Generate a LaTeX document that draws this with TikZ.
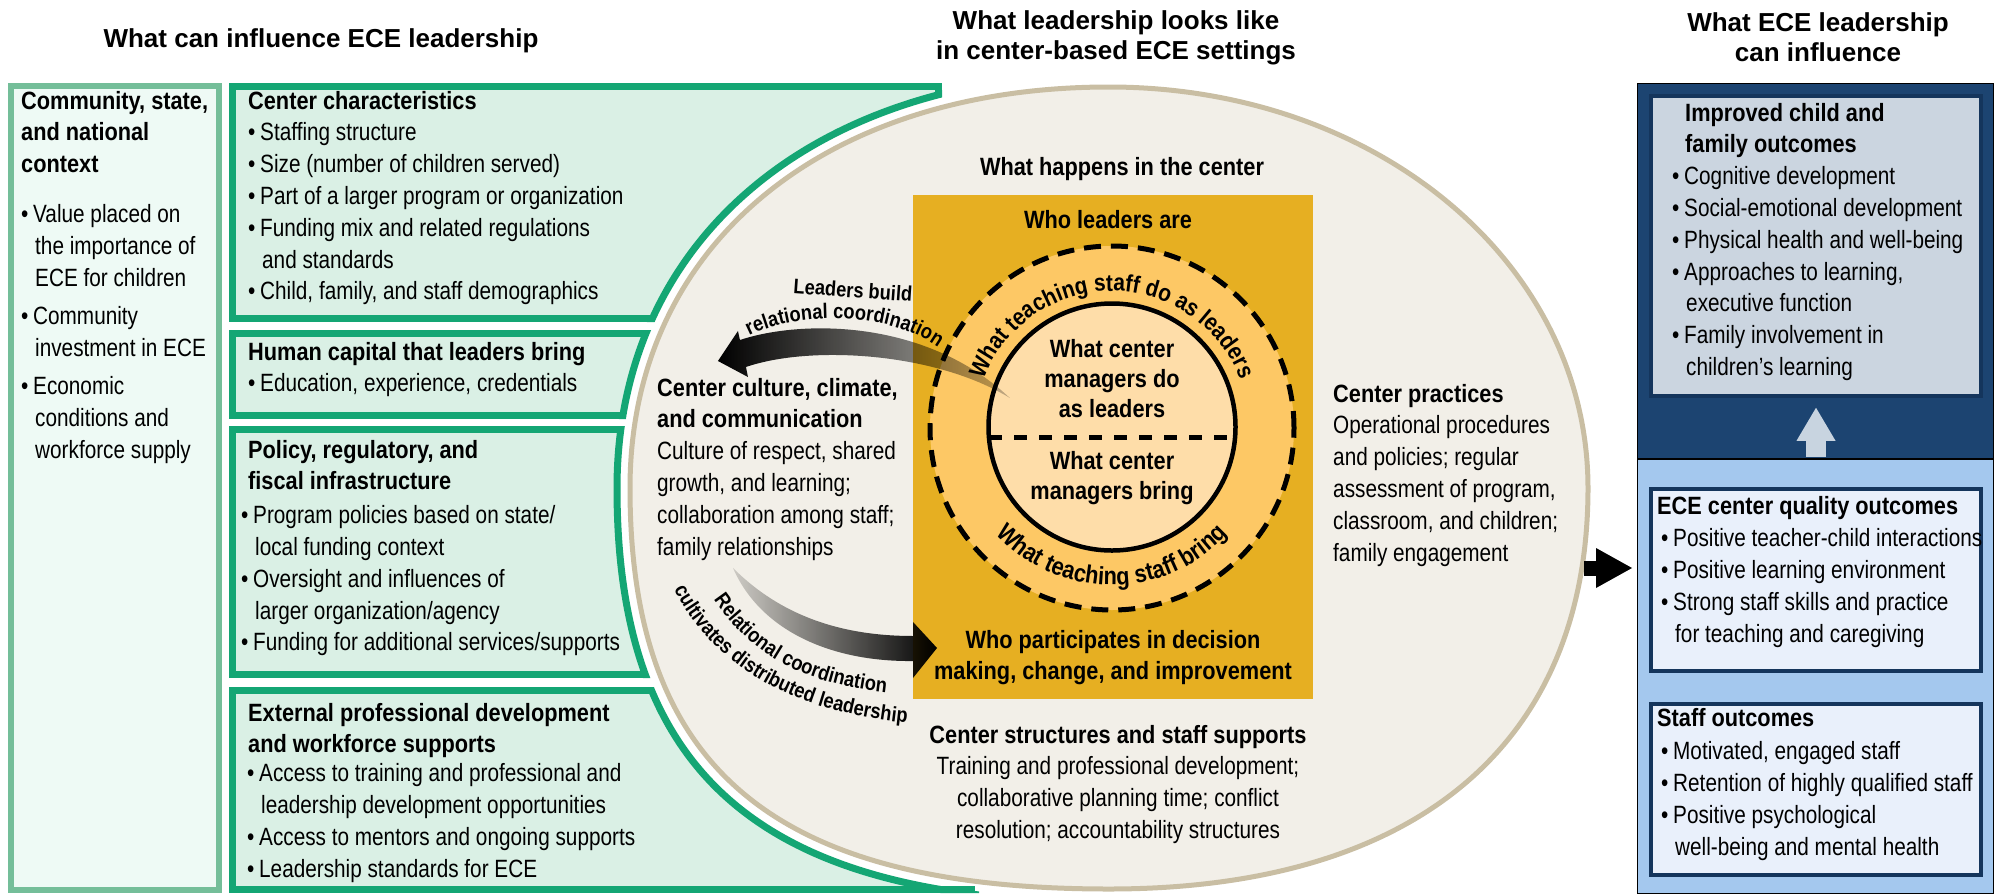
\documentclass[tikz,border=0pt]{standalone}
\usepackage{fontspec}
\setmainfont{Liberation Sans}[UprightFeatures={FakeStretch=0.83},BoldFeatures={FakeStretch=0.87}]
\newfontfamily\headfont{Liberation Sans}
\usetikzlibrary{arrows.meta, fadings, decorations.text, calc}

% Colours of the three columns
\definecolor{ctxline}{HTML}{74BE99}
\definecolor{ctxfill}{HTML}{EEFAF5}
\definecolor{grnline}{HTML}{14A674}
\definecolor{grnfill}{HTML}{DAF0E5}
\definecolor{beigefill}{HTML}{F2EFE8}
\definecolor{beigeline}{HTML}{C9BEA3}
\definecolor{gold}{HTML}{E6AF22}
\definecolor{ringfill}{HTML}{FDC865}
\definecolor{corefill}{HTML}{FEDDA9}
\definecolor{navy}{HTML}{1C4471}
\definecolor{navyline}{HTML}{14355C}
\definecolor{greyblue}{HTML}{CBD5E0}
\definecolor{skyblue}{HTML}{A4C8EE}
\definecolor{paleblue}{HTML}{E9F0FB}
\definecolor{arrowgrey}{HTML}{C8D4E0}

% Fadings for the two curved arrows
\tikzfading[name=tailright, left color=transparent!0, middle color=transparent!35, right color=transparent!100]
\tikzfading[name=tailleft, left color=transparent!85, middle color=transparent!35, right color=transparent!0]

\newcommand{\itm}{\makebox[12pt][l]{•}}
\newcommand{\cnt}{\hspace*{14pt}}
\newcommand{\arcfont}{\bfseries\fontsize{24}{24}\selectfont}
\newcommand{\arcfontb}{\bfseries\fontsize{25}{25}\selectfont}
\newcommand{\arrowfont}{\bfseries\fontsize{21}{21}\selectfont}

\tikzset{
  txt/.style={anchor=north west, inner sep=0pt, align=left,
    font=\fontsize{25}{31.8}\selectfont, execute at begin node=\strut},
  ctxt/.style={txt, anchor=north, align=center},
  headline/.style={anchor=north, inner sep=0pt, align=center,
    font=\headfont\bfseries\fontsize{26}{30}\selectfont, execute at begin node=\strut},
  outbox/.style={draw=navyline, line width=3.5pt, inner sep=0pt},
  arctext/.style={decorate, decoration={text along path, text align=center, text={#1}}},
}

\begin{document}
\begin{tikzpicture}[x=1pt, y=-1pt]

  % Fix the size of the page
  \useasboundingbox (0,0) rectangle (1997,895);

  % Column headings
  \node[headline] (lefthead) at (321,26) {What can influence ECE leadership};
  \node[headline] (midhead) at (1116,10) {What leadership looks like\\in center-based ECE settings};
  \node[headline] (righthead) at (1818,12) {What ECE leadership\\can influence};

  % Context box on the far left
  \draw[ctxline, fill=ctxfill, line width=6pt] (11,86) rectangle (219,890);
  \node[txt] (context) at (21,90.7) {\textbf{Community, state,}\\\textbf{and national}\\\textbf{context}\\[18pt]%
    \itm Value placed on\\\cnt the importance of\\\cnt ECE for children\\[7pt]%
    \itm Community\\\cnt investment in ECE\\[6pt]%
    \itm Economic\\\cnt conditions and\\\cnt workforce supply};

  % The four green boxes
  \draw[grnline, fill=grnfill, line width=7pt] (232.5,86.5) rectangle (938,318.5);
  \draw[grnline, fill=grnfill, line width=7pt] (232.5,333.5) rectangle (900,415.5);
  \draw[grnline, fill=grnfill, line width=7pt] (232.5,429.5) rectangle (900,674.5);
  \draw[grnline, fill=grnfill, line width=7pt] (232.5,690.5) rectangle (975,889.5);

  % Cut the green boxes along the big shape
  \begin{scope}
    \clip (229,83) rectangle (942,322) (229,330) rectangle (904,419)
          (229,426) rectangle (904,678) (229,687) rectangle (979,893);
    \draw[grnline, fill=white, line width=7pt]
      (1601,488) .. controls (1601,256.2) and (1384.5,74) .. (1109,74)
      .. controls (813.8,74) and (617,239.6) .. (617,488)
      .. controls (617,777.8) and (764.6,902) .. (1109,902)
      .. controls (1423.9,902) and (1601,753) .. (1601,488) -- cycle;
  \end{scope}
  \draw[grnline, line width=7pt] (229,86.5) -- (938,86.5);
  \draw[grnline, line width=7pt] (229,889.5) -- (975,889.5);

  % Texts of the green boxes
  \node[txt] (centerchar) at (248,90.7) {\textbf{Center characteristics}\\\itm Staffing structure\\%
    \itm Size (number of children served)\\\itm Part of a larger program or organization\\%
    \itm Funding mix and related regulations\\\cnt and standards\\%
    \itm Child, family, and staff demographics};
  \node[txt] (humancap) at (248,341.7) {\textbf{Human capital that leaders bring}\\%
    \itm Education, experience, credentials};
  \node[txt] (policy) at (241,439.7) {\hspace*{7pt}\textbf{Policy, regulatory, and}\\%
    \hspace*{7pt}\textbf{fiscal infrastructure}\\[2pt]%
    \itm Program policies based on state/\\\cnt local funding context\\%
    \itm Oversight and influences of\\\cnt larger organization/agency\\%
    \itm Funding for additional services/supports};
  \node[txt] (external) at (247,702.7) {\hspace*{1pt}\textbf{External professional development}\\%
    \hspace*{1pt}\textbf{and workforce supports}\\[-3pt]%
    \itm Access to training and professional and\\\cnt leadership development opportunities\\%
    \itm Access to mentors and ongoing supports\\\itm Leadership standards for ECE};

  % The big beige shape
  \draw[beigeline, fill=beigefill, line width=5pt]
    (1588,488) .. controls (1588,263.4) and (1377.2,87) .. (1109,87)
    .. controls (821.6,87) and (630,247.4) .. (630,488)
    .. controls (630,768.7) and (773.7,889) .. (1109,889)
    .. controls (1415.6,889) and (1588,744.6) .. (1588,488) -- cycle;
  \coordinate (beigeE) at (1584,568);

  % Gold square with the two circles
  \node[fill=gold, minimum width=400pt, minimum height=504pt, inner sep=0pt] (goldsq) at (1113,447) {};
  \node[circle, draw=black, dash pattern=on 17pt off 10pt, line width=5pt, fill=ringfill,
        minimum size=364pt, inner sep=0pt] (ring) at (1112,428) {};
  \node[circle, draw=black, line width=4.5pt, fill=corefill, minimum size=247pt, inner sep=0pt] (core) at (1112,427) {};
  \draw[line width=5pt, dash pattern=on 13pt off 12pt] ($(core.center)+(-123,10)$) -- ($(core.center)+(123,10)$);

  % Arrow from the circles to the culture text
  \fill[black, path fading=tailright] (718,361) -- (738,331) -- (740,340)
    .. controls (800,320) and (925,318) .. (1010,398)
    .. controls (935,352) and (810,345) .. (746,367) -- (748,377) -- cycle (1100,361) -- (1100,361);
  \node[font=\arrowfont, rotate=-4, inner sep=0pt] (buildlabel) at (853,290) {Leaders build};
  \path[arctext={|\arrowfont|relational coordination}] (745,338) .. controls (795,310) and (890,310) .. (942,350);

  % Arrow from the culture text to the gold square
  \fill[black, path fading=tailleft] (733,568) .. controls (780,615) and (840,636) .. (913,636)
    -- (913,622) -- (937,648) -- (913,678) -- (913,661)
    .. controls (830,662) and (760,630) .. (733,568) -- cycle;
  \path[arctext={|\arrowfont|Relational coordination}] (706,588) .. controls (745,652) and (800,686) .. (900,694);
  \path[arctext={|\arrowfont|cultivates distributed leadership}] (668,578) .. controls (708,665) and (790,714) .. (920,724);

  % Texts in and around the gold square
  \node[ctxt] (happens) at (1122,152.7) {\textbf{What happens in the center}};
  \node[ctxt] (whoare) at (1108,205.7) {\textbf{Who leaders are}};
  \node[ctxt, font=\fontsize{25}{30}\selectfont] (managersdo) at (1112,339) {\textbf{What center}\\\textbf{managers do}\\\textbf{as leaders}};
  \node[ctxt, font=\fontsize{25}{30}\selectfont] (managersbring) at (1112,451) {\textbf{What center}\\\textbf{managers bring}};
  \path[arctext={|\arcfont|What teaching staff do as leaders}] (ring.center) ++(185:137) arc[start angle=185, end angle=355, radius=137];
  \path[arctext={|\arcfontb|What teaching staff bring}] (ring.center) ++(150:157) arc[start angle=150, end angle=30, radius=157];
  \node[ctxt] (participates) at (1113,629.7) {\textbf{Who participates in decision}\\\textbf{making, change, and improvement}};

  % Texts on the beige shape
  \node[txt] (culture) at (657,377.7) {\textbf{Center culture, climate,}\\\textbf{and communication}\\%
    Culture of respect, shared\\growth, and learning;\\collaboration among staff;\\family relationships};
  \node[txt] (practices) at (1333,383.7) {\textbf{Center practices}\\Operational procedures\\%
    and policies; regular\\assessment of program,\\classroom, and children;\\family engagement};
  \node[ctxt] (structures) at (1118,724.7) {\textbf{Center structures and staff supports}\\%
    Training and professional development;\\collaborative planning time; conflict\\%
    resolution; accountability structures};

  % Outcome panel on the right
  \fill[navy] (1637,83) rectangle (1993,459);
  \fill[skyblue] (1637,459) rectangle (1993,893);
  \node[draw=black, line width=1.2pt, inner sep=0pt, minimum width=356pt, minimum height=810pt,
        anchor=north west] (outpanel) at (1637,83) {};
  \draw[black, line width=1.2pt] (1637,459) -- (1993,459);
  \node[outbox, fill=greyblue, minimum width=330pt, minimum height=300pt] (improved) at (1816,246) {};
  \node[outbox, fill=paleblue, minimum width=330pt, minimum height=182pt] (quality) at (1816,580) {};
  \node[outbox, fill=paleblue, minimum width=330pt, minimum height=171pt] (staff) at (1816,789.5) {};

  \node[txt] (improvedtext) at (1672,102.7) {\hspace*{13pt}\textbf{Improved child and}\\%
    \hspace*{13pt}\textbf{family outcomes}\\\itm Cognitive development\\\itm Social-emotional development\\%
    \itm Physical health and well-being\\\itm Approaches to learning,\\\cnt executive function\\%
    \itm Family involvement in\\\cnt children’s learning};
  \node[txt] (qualitytext) at (1657,495.7) {\textbf{ECE center quality outcomes}\\[1pt]%
    \hspace*{4pt}\itm Positive teacher-child interactions\\\hspace*{4pt}\itm Positive learning environment\\%
    \hspace*{4pt}\itm Strong staff skills and practice\\\hspace*{4pt}\cnt for teaching and caregiving};
  \node[txt] (stafftext) at (1657,707.7) {\textbf{Staff outcomes}\\[2pt]%
    \hspace*{4pt}\itm Motivated, engaged staff\\\hspace*{4pt}\itm Retention of highly qualified staff\\%
    \hspace*{4pt}\itm Positive psychological\\\hspace*{4pt}\cnt well-being and mental health};

  % Arrows between the columns
  \draw[arrowgrey, line width=20pt, -{Triangle[width=39pt, length=33pt, line width=0pt]}]
    ([yshift=-59pt]improved.south) -- ([yshift=-10pt]improved.south);
  \draw[black, line width=15pt, -{Triangle[width=40pt, length=36pt, line width=0pt]}]
    (beigeE) -- ([xshift=-5pt]beigeE -| outpanel.west);

\end{tikzpicture}
\end{document}
